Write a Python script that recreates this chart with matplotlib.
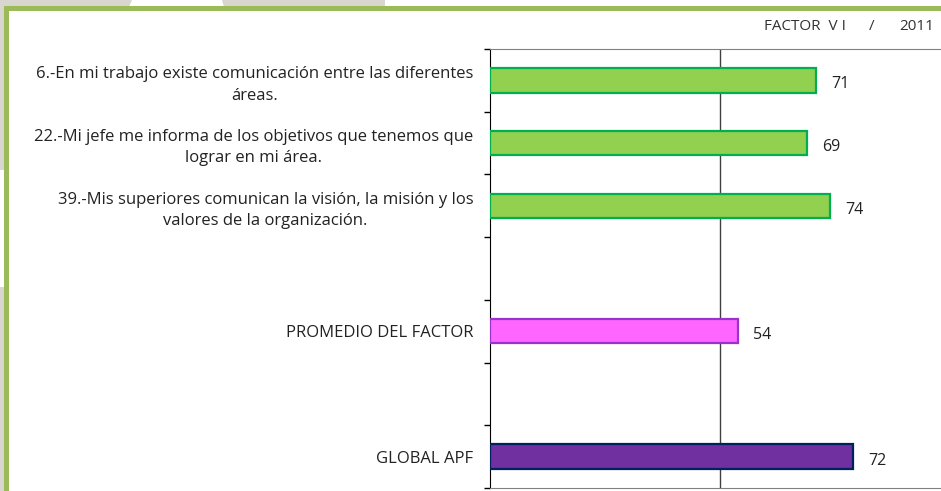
import numpy as np
import matplotlib.pyplot as plt
from matplotlib.patches import Rectangle, Polygon

plt.rcParams['font.family'] = ['Open Sans', 'DejaVu Sans']

categories = [
    '6.-En mi trabajo existe comunicación entre las diferentes\náreas.',
    '22.-Mi jefe me informa de los objetivos que tenemos que\nlograr en mi área.',
    '39.-Mis superiores comunican la visión, la misión y los\nvalores de la organización.',
    '',
    'PROMEDIO DEL FACTOR',
    '',
    'GLOBAL APF',
]
# bar lengths as drawn, and the labels printed next to them
values = [71, 69, 74, None, 54, None, 79]
value_labels = ['71', '69', '74', '', '54', '', '72']
fills = ['#92D050', '#92D050', '#92D050', None, '#FF66FF', None, '#7030A0']
edges = ['#00B050', '#00B050', '#00B050', None, '#9933CC', None, '#002060']

W, H = 941, 491
fig = plt.figure(figsize=(W / 100, H / 100), dpi=100)


def px(x, y, w, h, **kw):
    # rectangle in pixel coords (top-left origin)
    fig.add_artist(Rectangle((x / W, 1 - (y + h) / H), w / W, h / H,
                             transform=fig.transFigure, lw=0, **kw))


# slide background bits
gray = '#D9D6D0'
fig.add_artist(Polygon([(0, 1), (132 / W, 1), (129 / W, 1 - 7 / H), (0, 1 - 7 / H)],
                       closed=True, transform=fig.transFigure, color=gray, lw=0))
fig.add_artist(Polygon([(222 / W, 1), (385 / W, 1), (385 / W, 1 - 7 / H), (224 / W, 1 - 7 / H)],
                       closed=True, transform=fig.transFigure, color=gray, lw=0))
px(0, 0, 5, 170, color=gray)
px(0, 287, 5, 204, color=gray)
px(4, 6, W, 5, color='#9BBB59')
px(4, 6, 5, H, color='#9BBB59')

ax = fig.add_axes([490 / W, 1 - 488 / H, 459 / W, 439 / H])
y = np.arange(len(categories))
for yi, v, lab, fc, ec in zip(y, values, value_labels, fills, edges):
    if v is None:
        continue
    ax.barh(yi, v, height=0.39, color=fc, edgecolor=ec, linewidth=1.6, zorder=3)
    ax.text(v + 3.4, yi + 0.03, lab, va='center_baseline', ha='left', fontsize=11.5,
            color='#222222')

ax.set_xlim(0, 100)
ax.set_ylim(len(categories) - 0.5, -0.5)
ax.axvline(50, color='#404040', lw=1, zorder=1)
ax.set_xticks([])
ax.set_yticks(y)
ax.set_yticklabels(categories, multialignment='center', fontsize=12, color='#222222',
                   linespacing=1.45)
ax.tick_params(axis='y', which='major', length=0, pad=12)
ax.set_yticks(np.arange(-0.5, len(categories)), minor=True)
ax.tick_params(axis='y', which='minor', length=4, width=1, color='black')
ax.spines['left'].set_color('black')
ax.spines['top'].set_color('#808080')
ax.spines['bottom'].set_color('#808080')
ax.spines['right'].set_visible(False)

fig.text(846 / W, 1 - 27 / H, 'FACTOR  V I', ha='right', va='center', fontsize=11, color='#333333')
fig.text(872 / W, 1 - 27 / H, '/', ha='center', va='center', fontsize=11, color='#333333')
fig.text(934 / W, 1 - 27 / H, '2011', ha='right', va='center', fontsize=11, color='#333333')

fig.savefig('out.png', dpi=100)
